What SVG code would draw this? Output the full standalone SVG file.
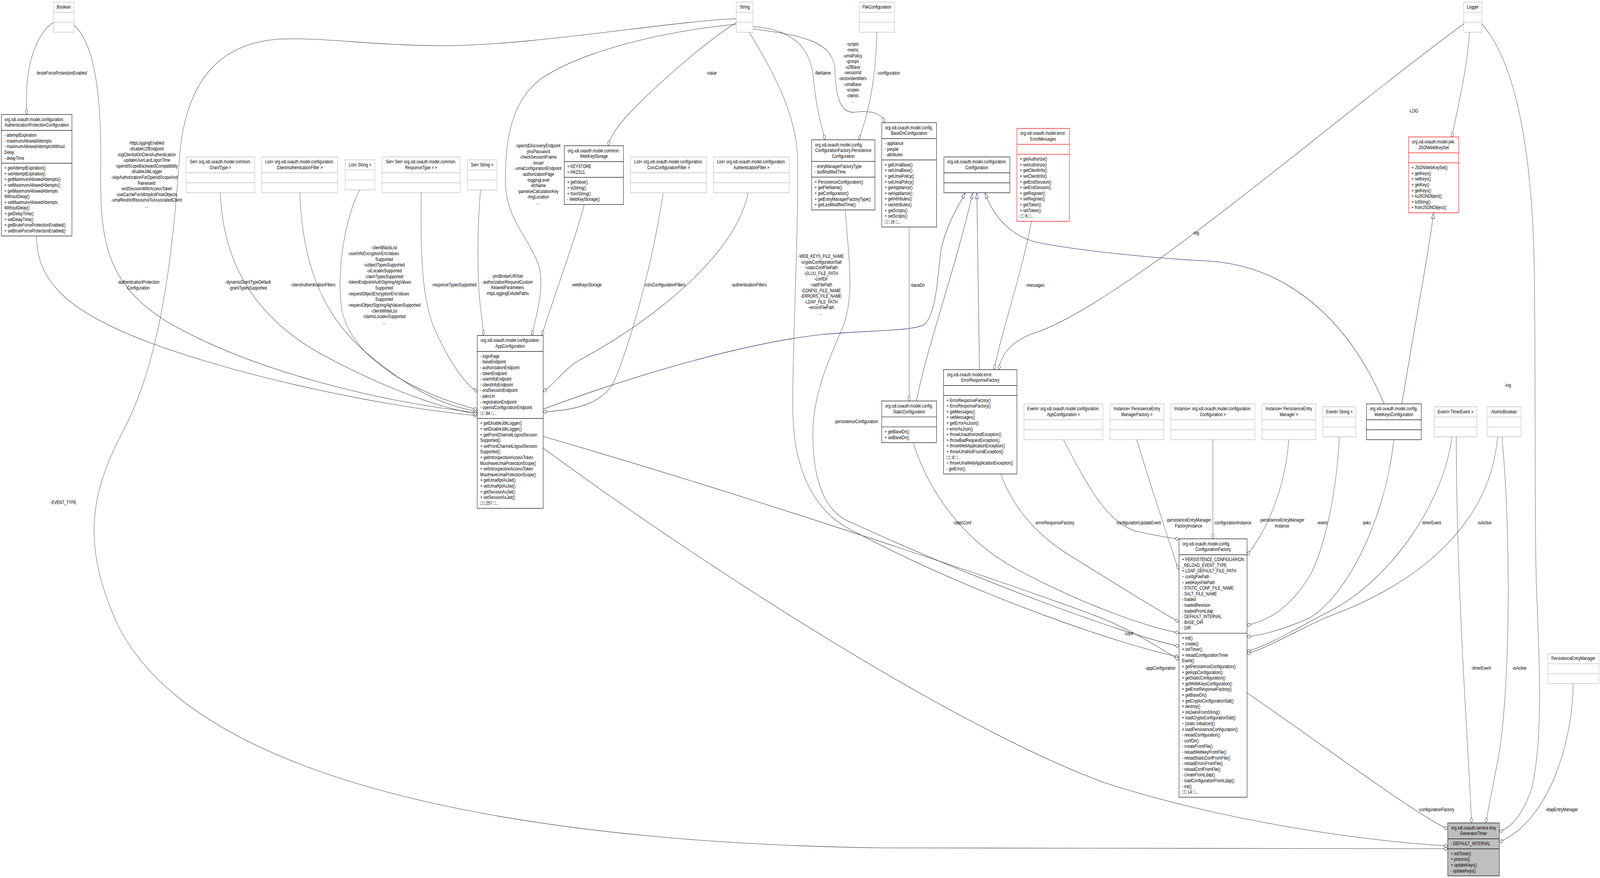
<svg xmlns="http://www.w3.org/2000/svg" width="5433" height="2247" viewBox="0 0 5433 2247" preserveAspectRatio="none">
<defs>
<style>
:root{width:100vw;height:100vh}
text{font-family:"Liberation Sans",Arial,Helvetica,sans-serif;font-size:13px;fill:#000}
.m{text-anchor:middle}
.n{text-anchor:end}
.b{fill:#fff;stroke:#000;stroke-width:1.2}
.g{fill:#fff;stroke:#bfbfbf;stroke-width:1.4}
.r{fill:#fff;stroke:#f00;stroke-width:1.3}
.k{fill:#bfbfbf;stroke:#000;stroke-width:1.2}
.bl{fill:none;stroke:#000;stroke-width:1.2}
.gl{fill:none;stroke:#bfbfbf;stroke-width:1.4}
.rl{fill:none;stroke:#f00;stroke-width:1.3}
.e{fill:none;stroke:#404040;stroke-width:1.1;marker-end:url(#dia)}
.i{fill:none;stroke:#191970;stroke-width:1.1;marker-end:url(#tri)}
</style>
<marker id="dia" viewBox="0 0 16 12" refX="15" refY="6" markerWidth="16" markerHeight="12" markerUnits="userSpaceOnUse" orient="auto"><path d="M1,6 L8,1.5 L15,6 L8,10.5 Z" fill="#fff" stroke="#404040" stroke-width="1.1"/></marker>
<marker id="tri" viewBox="0 0 16 12" refX="15" refY="6" markerWidth="16" markerHeight="12" markerUnits="userSpaceOnUse" orient="auto"><path d="M1,1 L15,6 L1,11 Z" fill="#fff" stroke="#191970" stroke-width="1.1"/></marker>
</defs>
<rect width="5433" height="2247" fill="#fff"/>

<g id="nodes">
<g id="n-boolean"><rect class="g" x="182" y="5.5" width="69" height="77.1"/><path class="gl" d="M182,31.6H251M182,57.1H251"/><text class="m" x="216.5" y="22.3">Boolean</text></g>
<g id="n-string"><rect class="g" x="2500" y="5.5" width="57" height="77.1"/><path class="gl" d="M2500,31.6H2557M2500,57.1H2557"/><text class="m" x="2528.5" y="22.3">String</text></g>
<g id="n-fileconfiguration"><rect class="g" x="2918" y="5.5" width="119" height="77.1"/><path class="gl" d="M2918,31.6H3037M2918,57.1H3037"/><text class="m" x="2977.5" y="22.3">FileConfiguration</text></g>
<g id="n-logger"><rect class="g" x="4970" y="5.5" width="62" height="77.1"/><path class="gl" d="M4970,31.6H5032M4970,57.1H5032"/><text class="m" x="5001" y="22.3">Logger</text></g>

<g id="n-authprot"><rect class="b" x="4.7" y="293" width="239.5" height="310.9"/><path class="bl" d="M4.7,333.7H244.2M4.7,417.7H244.2"/>
<text x="15.7" y="309.75">org.xdi.oxauth.model.configuration.</text>
<text class="m" x="124.45" y="324.35">AuthenticationProtectionConfiguration</text>
<text x="14.7" y="350.2"><tspan x="14.7">- attemptExpiration</tspan><tspan x="14.7" dy="14.6">- maximumAllowedAttempts</tspan><tspan x="14.7" dy="14.6">- maximumAllowedAttemptsWithout</tspan><tspan x="14.7" dy="14.6">Delay</tspan><tspan x="14.7" dy="14.6">- delayTime</tspan></text>
<text x="14.7" y="434.2"><tspan x="14.7">+ getAttemptExpiration()</tspan><tspan x="14.7" dy="14.6">+ setAttemptExpiration()</tspan><tspan x="14.7" dy="14.6">+ getMaximumAllowedAttempts()</tspan><tspan x="14.7" dy="14.6">+ setMaximumAllowedAttempts()</tspan><tspan x="14.7" dy="14.6">+ getMaximumAllowedAttempts</tspan><tspan x="14.7" dy="14.6">WithoutDelay()</tspan><tspan x="14.7" dy="14.6">+ setMaximumAllowedAttempts</tspan><tspan x="14.7" dy="14.6">WithoutDelay()</tspan><tspan x="14.7" dy="14.6">+ getDelayTime()</tspan><tspan x="14.7" dy="14.6">+ setDelayTime()</tspan><tspan x="14.7" dy="14.6">+ getBruteForceProtectionEnabled()</tspan><tspan x="14.7" dy="14.6">+ setBruteForceProtectionEnabled()</tspan></text></g>

<g id="n-setgranttype"><rect class="g" x="631.6" y="401.6" width="233.5" height="91.7"/><path class="gl" d="M631.6,442.3H865.1M631.6,467.8H865.1"/><text class="m" x="748.35" y="418.35">Set&lt; org.xdi.oxauth.model.common.</text><text class="m" x="748.35" y="432.95">GrantType &gt;</text></g>
<g id="n-listclientauthfilter"><rect class="g" x="889" y="401.6" width="257.5" height="91.7"/><path class="gl" d="M889,442.3H1146.5M889,467.8H1146.5"/><text class="m" x="1017.75" y="418.35">List&lt; org.xdi.oxauth.model.configuration.</text><text class="m" x="1017.75" y="432.95">ClientAuthenticationFilter &gt;</text></g>
<g id="n-liststring"><rect class="g" x="1172" y="409" width="101" height="77.1"/><path class="gl" d="M1172,435.1H1273M1172,460.6H1273"/><text class="m" x="1222.5" y="425.75">List&lt; String &gt;</text></g>
<g id="n-setsetresponsetype"><rect class="g" x="1297" y="401.6" width="265.5" height="91.7"/><path class="gl" d="M1297,442.3H1562.5M1297,467.8H1562.5"/><text class="m" x="1429.75" y="418.35">Set&lt; Set&lt; org.xdi.oxauth.model.common.</text><text class="m" x="1429.75" y="432.95">ResponseType &gt; &gt;</text></g>
<g id="n-setstring"><rect class="g" x="1587" y="409" width="100" height="77.1"/><path class="gl" d="M1587,435.1H1687M1587,460.6H1687"/><text class="m" x="1637" y="425.75">Set&lt; String &gt;</text></g>

<g id="n-webkeystorage"><rect class="b" x="1916" y="373" width="201" height="150.3"/><path class="bl" d="M1916,413.7H2117M1916,453.9H2117"/>
<text x="1927.5" y="389.75">org.xdi.oxauth.model.common.</text><text class="m" x="2016.5" y="404.35">WebKeyStorage</text>
<text x="1926" y="430.2"><tspan x="1926">+ KEYSTORE</tspan><tspan x="1926" dy="14.6">+ PKCS11</tspan></text>
<text x="1926" y="470.4"><tspan x="1926">+ getValue()</tspan><tspan x="1926" dy="14.6">+ toString()</tspan><tspan x="1926" dy="14.6">+ fromString()</tspan><tspan x="1926" dy="14.6">- WebKeyStorage()</tspan></text></g>

<g id="n-listcors"><rect class="g" x="2141.5" y="401.6" width="257.5" height="91.7"/><path class="gl" d="M2141.5,442.3H2399M2141.5,467.8H2399"/><text class="m" x="2270.25" y="418.35">List&lt; org.xdi.oxauth.model.configuration.</text><text class="m" x="2270.25" y="432.95">CorsConfigurationFilter &gt;</text></g>
<g id="n-listauthfilter"><rect class="g" x="2423" y="401.6" width="257" height="91.7"/><path class="gl" d="M2423,442.3H2680M2423,467.8H2680"/><text class="m" x="2551.5" y="418.35">List&lt; org.xdi.oxauth.model.configuration.</text><text class="m" x="2551.5" y="432.95">AuthenticationFilter &gt;</text></g>

<g id="n-persistenceconfiguration"><rect class="b" x="2756" y="357.8" width="215" height="179.5"/><path class="bl" d="M2756,413.1H2971M2756,453.3H2971"/>
<text x="2767.5" y="374.55">org.xdi.oxauth.model.config.</text><text class="m" x="2863.5" y="389.15">ConfigurationFactory.Persistence</text><text class="m" x="2863.5" y="403.75">Configuration</text>
<text x="2766" y="429.6"><tspan x="2766">- entryManagerFactoryType</tspan><tspan x="2766" dy="14.6">- lastModifiedTime</tspan></text>
<text x="2766" y="469.8"><tspan x="2766">+ PersistenceConfiguration()</tspan><tspan x="2766" dy="14.6">+ getFileName()</tspan><tspan x="2766" dy="14.6">+ getConfiguration()</tspan><tspan x="2766" dy="14.6">+ getEntryManagerFactoryType()</tspan><tspan x="2766" dy="14.6">+ getLastModifiedTime()</tspan></text></g>

<g id="n-basedn"><rect class="b" x="2994" y="313.9" width="186" height="267.1"/><path class="bl" d="M2994,354.6H3180M2994,409.4H3180"/>
<text x="3005.5" y="330.65">org.xdi.oxauth.model.config.</text><text class="m" x="3087" y="345.25">BaseDnConfiguration</text>
<text x="3004" y="371.1"><tspan x="3004">- appliance</tspan><tspan x="3004" dy="14.6">- people</tspan><tspan x="3004" dy="14.6">- attributes</tspan></text>
<text x="3004" y="425.9"><tspan x="3004">+ getUmaBase()</tspan><tspan x="3004" dy="14.6">+ setUmaBase()</tspan><tspan x="3004" dy="14.6">+ getUmaPolicy()</tspan><tspan x="3004" dy="14.6">+ setUmaPolicy()</tspan><tspan x="3004" dy="14.6">+ getAppliance()</tspan><tspan x="3004" dy="14.6">+ setAppliance()</tspan><tspan x="3004" dy="14.6">+ getAttributes()</tspan><tspan x="3004" dy="14.6">+ setAttributes()</tspan><tspan x="3004" dy="14.6">+ getScripts()</tspan><tspan x="3004" dy="14.6">+ setScripts()</tspan><tspan x="3004" dy="14.6">□□ 16 □...</tspan></text></g>

<g id="n-configuration"><rect class="b" x="3205" y="401.6" width="224" height="91.7"/><path class="bl" d="M3205,442.3H3429M3205,467.8H3429"/><text x="3216.5" y="418.35">org.xdi.oxauth.model.configuration.</text><text class="m" x="3317" y="432.95">Configuration</text></g>

<g id="n-errormessages"><rect class="r" x="3453" y="328.6" width="178" height="237.8"/><path class="rl" d="M3453,369.3H3631M3453,394.8H3631"/>
<text x="3464.5" y="345.35">org.xdi.oxauth.model.error.</text><text class="m" x="3542" y="359.95">ErrorMessages</text>
<text x="3463" y="411.3"><tspan x="3463">+ getAuthorize()</tspan><tspan x="3463" dy="14.6">+ setAuthorize()</tspan><tspan x="3463" dy="14.6">+ getClientInfo()</tspan><tspan x="3463" dy="14.6">+ setClientInfo()</tspan><tspan x="3463" dy="14.6">+ getEndSession()</tspan><tspan x="3463" dy="14.6">+ setEndSession()</tspan><tspan x="3463" dy="14.6">+ getRegister()</tspan><tspan x="3463" dy="14.6">+ setRegister()</tspan><tspan x="3463" dy="14.6">+ getToken()</tspan><tspan x="3463" dy="14.6">+ setToken()</tspan><tspan x="3463" dy="14.6">□□ 6 □...</tspan></text></g>

<g id="n-jsonwebkeyset"><rect class="r" x="4783" y="350.5" width="170" height="194"/><path class="rl" d="M4783,391.2H4953M4783,416.7H4953"/>
<text x="4794.5" y="367.25">org.xdi.oxauth.model.jwk.</text><text class="m" x="4868" y="381.85">JSONWebKeySet</text>
<text x="4793" y="433.2"><tspan x="4793">+ JSONWebKeySet()</tspan><tspan x="4793" dy="14.6">+ getKeys()</tspan><tspan x="4793" dy="14.6">+ setKeys()</tspan><tspan x="4793" dy="14.6">+ getKey()</tspan><tspan x="4793" dy="14.6">+ getKeys()</tspan><tspan x="4793" dy="14.6">+ toJSONObject()</tspan><tspan x="4793" dy="14.6">+ toString()</tspan><tspan x="4793" dy="14.6">+ fromJSONObject()</tspan></text></g>

<g id="n-appconfiguration"><rect class="b" x="1620.5" y="858.6" width="224" height="442.3"/><path class="bl" d="M1620.5,899.3H1844.5M1620.5,1070.9H1844.5"/>
<text x="1632" y="875.35">org.xdi.oxauth.model.configuration.</text><text class="m" x="1732.5" y="889.95">AppConfiguration</text>
<text x="1630.5" y="915.8"><tspan x="1630.5">- loginPage</tspan><tspan x="1630.5" dy="14.6">- baseEndpoint</tspan><tspan x="1630.5" dy="14.6">- authorizationEndpoint</tspan><tspan x="1630.5" dy="14.6">- tokenEndpoint</tspan><tspan x="1630.5" dy="14.6">- userInfoEndpoint</tspan><tspan x="1630.5" dy="14.6">- clientInfoEndpoint</tspan><tspan x="1630.5" dy="14.6">- endSessionEndpoint</tspan><tspan x="1630.5" dy="14.6">- jwksUri</tspan><tspan x="1630.5" dy="14.6">- registrationEndpoint</tspan><tspan x="1630.5" dy="14.6">- openIdConfigurationEndpoint</tspan><tspan x="1630.5" dy="14.6">□□ 84 □...</tspan></text>
<text x="1630.5" y="1087.4"><tspan x="1630.5">+ getDisableJdkLogger()</tspan><tspan x="1630.5" dy="14.6">+ setDisableJdkLogger()</tspan><tspan x="1630.5" dy="14.6">+ getFrontChannelLogoutSession</tspan><tspan x="1630.5" dy="14.6">Supported()</tspan><tspan x="1630.5" dy="14.6">+ setFrontChannelLogoutSession</tspan><tspan x="1630.5" dy="14.6">Supported()</tspan><tspan x="1630.5" dy="14.6">+ getIntrospectionAccessToken</tspan><tspan x="1630.5" dy="14.6">MustHaveUmaProtectionScope()</tspan><tspan x="1630.5" dy="14.6">+ setIntrospectionAccessToken</tspan><tspan x="1630.5" dy="14.6">MustHaveUmaProtectionScope()</tspan><tspan x="1630.5" dy="14.6">+ getUmaRptAsJwt()</tspan><tspan x="1630.5" dy="14.6">+ setUmaRptAsJwt()</tspan><tspan x="1630.5" dy="14.6">+ getSessionAsJwt()</tspan><tspan x="1630.5" dy="14.6">+ setSessionAsJwt()</tspan><tspan x="1630.5" dy="14.6">□□ 257 □...</tspan></text></g>

<g id="n-staticconfiguration"><rect class="b" x="2994" y="1026.3" width="186" height="106.4"/><path class="bl" d="M2994,1067H3180M2994,1092.5H3180"/>
<text x="3005.5" y="1043.05">org.xdi.oxauth.model.config.</text><text class="m" x="3087" y="1057.65">StaticConfiguration</text>
<text x="3004" y="1109"><tspan x="3004">+ getBaseDn()</tspan><tspan x="3004" dy="14.6">+ setBaseDn()</tspan></text></g>

<g id="n-errorresponsefactory"><rect class="b" x="3204" y="946" width="249" height="267"/><path class="bl" d="M3204,986.7H3453M3204,1012.2H3453"/>
<text x="3215.5" y="962.75">org.xdi.oxauth.model.error.</text><text class="m" x="3328.5" y="977.35">ErrorResponseFactory</text>
<text x="3214" y="1028.7"><tspan x="3214">+ ErrorResponseFactory()</tspan><tspan x="3214" dy="14.6">+ ErrorResponseFactory()</tspan><tspan x="3214" dy="14.6">+ getMessages()</tspan><tspan x="3214" dy="14.6">+ setMessages()</tspan><tspan x="3214" dy="14.6">+ getErrorAsJson()</tspan><tspan x="3214" dy="14.6">+ errorAsJson()</tspan><tspan x="3214" dy="14.6">+ throwUnauthorizedException()</tspan><tspan x="3214" dy="14.6">+ throwBadRequestException()</tspan><tspan x="3214" dy="14.6">+ throwWebApplicationException()</tspan><tspan x="3214" dy="14.6">+ throwUmaNotFoundException()</tspan><tspan x="3214" dy="14.6">□□ 8 □...</tspan><tspan x="3214" dy="14.6">~ throwUmaWebApplicationException()</tspan><tspan x="3214" dy="14.6">- getError()</tspan></text></g>

<g id="n-eventappconfiguration"><rect class="g" x="3477" y="1033.6" width="268" height="91.7"/><path class="gl" d="M3477,1074.3H3745M3477,1099.8H3745"/><text class="m" x="3611" y="1050.35">Event&lt; org.xdi.oxauth.model.configuration.</text><text class="m" x="3611" y="1064.95">AppConfiguration &gt;</text></g>
<g id="n-instancepemf"><rect class="g" x="3769" y="1033.6" width="183" height="91.7"/><path class="gl" d="M3769,1074.3H3952M3769,1099.8H3952"/><text class="m" x="3860.5" y="1050.35">Instance&lt; PersistenceEntry</text><text class="m" x="3860.5" y="1064.95">ManagerFactory &gt;</text></g>
<g id="n-instanceconfiguration"><rect class="g" x="3976" y="1033.6" width="285" height="91.7"/><path class="gl" d="M3976,1074.3H4261M3976,1099.8H4261"/><text class="m" x="4118.5" y="1050.35">Instance&lt; org.xdi.oxauth.model.configuration.</text><text class="m" x="4118.5" y="1064.95">Configuration &gt;</text></g>
<g id="n-instancepem"><rect class="g" x="4285" y="1033.6" width="183" height="91.7"/><path class="gl" d="M4285,1074.3H4468M4285,1099.8H4468"/><text class="m" x="4376.5" y="1050.35">Instance&lt; PersistenceEntry</text><text class="m" x="4376.5" y="1064.95">Manager &gt;</text></g>
<g id="n-eventstring"><rect class="g" x="4492" y="1041" width="112" height="77.1"/><path class="gl" d="M4492,1067.1H4604M4492,1092.6H4604"/><text class="m" x="4548" y="1057.75">Event&lt; String &gt;</text></g>
<g id="n-webkeysconfiguration"><rect class="b" x="4640" y="1033.6" width="186" height="91.7"/><path class="bl" d="M4640,1074.3H4826M4640,1099.8H4826"/><text x="4651.5" y="1050.35">org.xdi.oxauth.model.config.</text><text class="m" x="4733" y="1064.95">WebKeysConfiguration</text></g>
<g id="n-eventtimerevent"><rect class="g" x="4870" y="1041" width="145" height="77.1"/><path class="gl" d="M4870,1067.1H5015M4870,1092.6H5015"/><text class="m" x="4942.5" y="1057.75">Event&lt; TimerEvent &gt;</text></g>
<g id="n-atomicboolean"><rect class="g" x="5050" y="1041" width="115" height="77.1"/><path class="gl" d="M5050,1067.1H5165M5050,1092.6H5165"/><text class="m" x="5107.5" y="1057.75">AtomicBoolean</text></g>

<g id="n-configurationfactory"><rect class="b" x="4003.5" y="1379" width="231" height="661.3"/><path class="bl" d="M4003.5,1419.7H4234.5M4003.5,1620.5H4234.5"/>
<text x="4015" y="1395.75">org.xdi.oxauth.model.config.</text><text class="m" x="4119" y="1410.35">ConfigurationFactory</text>
<text x="4013.5" y="1436.2"><tspan x="4013.5">+ PERSISTENCE_CONFIGUARION</tspan><tspan x="4013.5" dy="14.6">_RELOAD_EVENT_TYPE</tspan><tspan x="4013.5" dy="14.6">+ LDAP_DEFAULT_FILE_PATH</tspan><tspan x="4013.5" dy="14.6">~ configFilePath</tspan><tspan x="4013.5" dy="14.6">~ webKeysFilePath</tspan><tspan x="4013.5" dy="14.6">- STATIC_CONF_FILE_NAME</tspan><tspan x="4013.5" dy="14.6">- SALT_FILE_NAME</tspan><tspan x="4013.5" dy="14.6">- loaded</tspan><tspan x="4013.5" dy="14.6">- loadedRevision</tspan><tspan x="4013.5" dy="14.6">- loadedFromLdap</tspan><tspan x="4013.5" dy="14.6">- DEFAULT_INTERVAL</tspan><tspan x="4013.5" dy="14.6">- BASE_DIR</tspan><tspan x="4013.5" dy="14.6">- DIR</tspan></text>
<text x="4013.5" y="1637"><tspan x="4013.5">+ init()</tspan><tspan x="4013.5" dy="14.6">+ create()</tspan><tspan x="4013.5" dy="14.6">+ initTimer()</tspan><tspan x="4013.5" dy="14.6">+ reloadConfigurationTimer</tspan><tspan x="4013.5" dy="14.6">Event()</tspan><tspan x="4013.5" dy="14.6">+ getPersistenceConfiguration()</tspan><tspan x="4013.5" dy="14.6">+ getAppConfiguration()</tspan><tspan x="4013.5" dy="14.6">+ getStaticConfiguration()</tspan><tspan x="4013.5" dy="14.6">+ getWebKeysConfiguration()</tspan><tspan x="4013.5" dy="14.6">+ getErrorResponseFactory()</tspan><tspan x="4013.5" dy="14.6">+ getBaseDn()</tspan><tspan x="4013.5" dy="14.6">+ getCryptoConfigurationSalt()</tspan><tspan x="4013.5" dy="14.6">+ destroy()</tspan><tspan x="4013.5" dy="14.6">+ initJwksFromString()</tspan><tspan x="4013.5" dy="14.6">+ loadCryptoConfigurationSalt()</tspan><tspan x="4013.5" dy="14.6">~ [static initializer]()</tspan><tspan x="4013.5" dy="14.6"># loadPersistenceConfiguration()</tspan><tspan x="4013.5" dy="14.6">- reloadConfiguration()</tspan><tspan x="4013.5" dy="14.6">- confDir()</tspan><tspan x="4013.5" dy="14.6">- createFromFile()</tspan><tspan x="4013.5" dy="14.6">- reloadWebkeyFromFile()</tspan><tspan x="4013.5" dy="14.6">- reloadStaticConfFromFile()</tspan><tspan x="4013.5" dy="14.6">- reloadErrorsFromFile()</tspan><tspan x="4013.5" dy="14.6">- reloadConfFromFile()</tspan><tspan x="4013.5" dy="14.6">- createFromLdap()</tspan><tspan x="4013.5" dy="14.6">- loadConfigurationFromLdap()</tspan><tspan x="4013.5" dy="14.6">- init()</tspan><tspan x="4013.5" dy="14.6">□□ 14 □...</tspan></text></g>

<g id="n-persistenceentrymanager"><rect class="g" x="5256" y="1672.5" width="173" height="77.1"/><path class="gl" d="M5256,1698.6H5429M5256,1724.1H5429"/><text class="m" x="5342.5" y="1689.25">PersistenceEntryManager</text></g>

<g id="n-keygeneratortimer"><rect class="k" x="4916" y="2106" width="175" height="135.7"/><path class="bl" d="M4916,2146.7H5091M4916,2172.3H5091"/>
<text x="4927.5" y="2122.75">org.xdi.oxauth.service.Key</text><text class="m" x="5003.5" y="2137.35">GeneratorTimer</text>
<text x="4926" y="2163.2">- DEFAULT_INTERVAL</text>
<text x="4926" y="2188.8"><tspan x="4926">+ initTimer()</tspan><tspan x="4926" dy="14.6">+ process()</tspan><tspan x="4926" dy="14.6">+ updateKeys()</tspan><tspan x="4926" dy="14.6">- updateKeys()</tspan></text></g>
</g>

<g id="edges">
<path class="e" d="M182,57 C125,85 90,160 90,250 C90,270 90,285 90,293"/>
<path class="e" d="M251,64 C320,110 345,240 342,420 C339,600 350,720 560,820 C850,950 1300,1030 1621,1056"/>
<path class="e" d="M124,604 C124,720 230,800 520,880 C850,970 1300,1040 1621,1064"/>
<path class="e" d="M748,493 C755,640 830,800 1100,910 C1300,990 1470,1040 1621,1060"/>
<path class="e" d="M1018,493 C1025,640 1070,790 1240,900 C1380,990 1500,1040 1621,1052"/>
<path class="e" d="M1222,486 C1180,540 1140,680 1160,790 C1190,920 1420,1010 1621,1048"/>
<path class="e" d="M1430,493 C1430,620 1425,760 1480,850 C1530,930 1580,985 1621,1002"/>
<path class="e" d="M1632,486 C1620,580 1620,720 1632,790 C1638,825 1641,845 1641,858"/>
<path class="e" d="M2500,62 C2250,80 1980,130 1840,200 C1740,255 1716,350 1716,460 C1716,560 1790,600 1830,680 C1850,740 1820,810 1806,858"/>
<path class="e" d="M1984,523 C1950,620 1880,760 1840,858"/>
<path class="e" d="M2252,494 C2210,700 2130,900 2083,980 C2040,1035 1950,1050 1845,1054"/>
<path class="e" d="M2540,494 C2500,650 2220,820 1960,925 C1910,950 1880,985 1845,1002"/>
<path class="e" d="M2500,58 C2400,105 2240,210 2150,280 C2100,318 2072,350 2065,373"/>
<path class="e" d="M2557,68 C2690,75 2752,120 2762,200 C2770,270 2790,325 2802,358"/>
<path class="e" d="M2557,74 C2720,90 2832,105 2835,180 C2838,250 2855,292 2905,287 C2960,282 2995,290 3004,314"/>
<path class="e" d="M2977,83 C2975,180 2958,275 2915,358"/>
<path class="e" d="M4990,83 C4980,190 4945,290 4930,351"/>
<path class="e" d="M4972,60 C4650,240 4350,430 4100,571 C3860,710 3640,820 3520,850 C3440,870 3398,905 3392,946"/>
<path class="e" d="M3087,581 L3087,1026"/>
<path class="e" d="M3502,567 C3470,700 3400,850 3376,946"/>
<path class="e" d="M2545,83 C2620,180 2700,280 2708,400 C2712,600 2690,900 2692,1050 C2695,1200 2760,1310 2900,1360 C3300,1520 3800,1650 4003,1681"/>
<path class="e" d="M2870,538 C2880,650 2905,760 2860,840 C2815,920 2760,1010 2760,1110 C2760,1230 2800,1300 2870,1330 C3300,1480 3800,1620 4003,1654"/>
<path class="e" d="M3101,1133 C3150,1250 3260,1380 3460,1460 C3700,1555 3900,1605 4003,1620"/>
<path class="e" d="M3398,1213 C3440,1300 3520,1370 3640,1425 C3800,1500 3950,1570 4003,1591"/>
<path class="e" d="M3611,1125 C3690,1240 3760,1340 3860,1360 C3930,1372 3975,1376 4003,1380"/>
<path class="e" d="M3860,1125 C3905,1240 3955,1350 3985,1420 C3993,1440 3998,1450 4003,1457"/>
<path class="e" d="M4118.5,1125 L4118.5,1379"/>
<path class="e" d="M4376,1125 C4365,1250 4300,1360 4234,1421"/>
<path class="e" d="M4548,1118 C4540,1250 4500,1400 4450,1470 C4380,1560 4300,1590 4234,1600"/>
<path class="e" d="M4733,1125 C4700,1350 4560,1530 4450,1580 C4350,1615 4280,1625 4234,1630"/>
<path class="e" d="M4930,1118 C4900,1300 4700,1500 4500,1570 C4400,1610 4300,1655 4234,1667"/>
<path class="e" d="M5085,1118 C5060,1350 4800,1500 4500,1581 C4400,1615 4300,1660 4234,1673"/>
<path class="e" d="M1845,1117 C2500,1260 3300,1460 3700,1570 C3850,1612 3950,1665 4003,1688"/>
<path class="e" d="M1845,1147 C2300,1400 3200,1850 3750,2003 C4150,2100 4600,2150 4916,2165"/>
<path class="e" d="M2500,48 C2300,52 1800,118 1500,117 C1250,116 1100,95 950,100 C750,110 640,200 612,380 C590,600 560,900 420,1100 C300,1270 280,1400 400,1600 C700,2050 2000,2160 3000,2170 C4000,2175 4600,2172 4916,2172"/>
<path class="e" d="M4234,1773 C4500,1911 4800,2080 4916,2122"/>
<path class="e" d="M4945,1118 C4945,1500 4985,1900 4997,2106"/>
<path class="e" d="M5100,1118 C5135,1400 5125,1800 5085,1950 C5065,2030 5050,2080 5046,2106"/>
<path class="e" d="M5032,62 C5150,160 5205,400 5210,700 C5215,1000 5210,1300 5217,1500 C5228,1700 5240,1900 5200,2020 C5165,2095 5125,2120 5091,2128"/>
<path class="e" d="M5342,1750 C5340,1900 5260,2100 5091,2155"/>
<path class="i" d="M1845,1047 C2100,975 2500,880 2792,856 C2950,845 3100,848 3140,830 C3180,800 3185,700 3195,640 C3215,570 3260,520 3277,494"/>
<path class="i" d="M3112,1026 C3150,880 3240,700 3303,494"/>
<path class="i" d="M3326,946 L3317,494"/>
<path class="i" d="M4700,1034 C4600,850 4400,680 4100,668 C3900,660 3650,640 3520,620 C3440,605 3375,560 3345,494"/>
<path class="i" d="M4760,1034 C4800,850 4850,650 4868,545"/>

<g id="labels">
<text class="m" x="208.5" y="191">-bruteForceProtectionEnabled</text>
<text class="m" x="2416" y="191">-value</text>
<text class="m" x="2793" y="191">-fileName</text>
<text class="m" x="3017" y="191">-configuration</text>
<text class="m" x="4800" y="288">-LOG</text>
<text class="m" x="2895" y="117.5"><tspan x="2895">-scripts</tspan><tspan x="2895" dy="14.6">-metric</tspan><tspan x="2895" dy="14.6">-umaPolicy</tspan><tspan x="2895" dy="14.6">-groups</tspan><tspan x="2895" dy="14.6">-u2fBase</tspan><tspan x="2895" dy="14.6">-sessionId</tspan><tspan x="2895" dy="14.6">-sectorIdentifiers</tspan><tspan x="2895" dy="14.6">-umaBase</tspan><tspan x="2895" dy="14.6">-scopes</tspan><tspan x="2895" dy="14.6">-clients</tspan><tspan x="2895" dy="14.6">...</tspan></text>
<text class="m" x="497.5" y="370.5"><tspan x="497.5" y="370.5">-httpLoggingEnabled</tspan><tspan x="497.5" y="385.1">-disableU2fEndpoint</tspan><tspan x="497.5" y="399.7">-logClientIdOnClientAuthentication</tspan><tspan x="497.5" y="414.3">-updateUserLastLogonTime</tspan><tspan x="497.5" y="428.9">-openidScopeBackwardCompatibility</tspan><tspan x="497.5" y="443.5">-disableJdkLogger</tspan><tspan x="497.5" y="472.7">PairwiseId</tspan><tspan x="497.5" y="487.3">-endSessionWithAccessToken</tspan><tspan x="497.5" y="501.9">-useCacheForAllImplicitFlowObjects</tspan><tspan x="497.5" y="516.5">-umaRestrictResourceToAssociatedClient</tspan><tspan x="497.5" y="531.1">...</tspan></text>
<text x="377.5" y="458.1">-skipAuthorizationForOpenIdScopeAnd</text>
<text class="m" x="1827" y="377"><tspan x="1827">-openIdDiscoveryEndpoint</tspan><tspan x="1827" dy="14.6">-jmsPassword</tspan><tspan x="1827" dy="14.6">-checkSessionIFrame</tspan><tspan x="1827" dy="14.6">-issuer</tspan><tspan x="1827" dy="14.6">-umaConfigurationEndpoint</tspan><tspan x="1827" dy="14.6">-authorizationPage</tspan><tspan x="1827" dy="14.6">-loggingLevel</tspan><tspan x="1827" dy="14.6">-dnName</tspan><tspan x="1827" dy="14.6">-pairwiseCalculationKey</tspan><tspan x="1827" dy="14.6">-imgLocation</tspan><tspan x="1827" dy="14.6">...</tspan></text>
<text class="m" x="4061" y="600">-log</text>
<text class="m" x="470" y="726"><tspan x="470">-authenticationProtection</tspan><tspan x="470" dy="14.6">Configuration</tspan></text>
<text class="m" x="842" y="726"><tspan x="842">-dynamicGrantTypeDefault</tspan><tspan x="842" dy="14.6">-grantTypesSupported</tspan></text>
<text class="m" x="1063" y="733">-clientAuthenticationFilters</text>
<text class="m" x="1304.5" y="638.5"><tspan x="1304.5" y="638.5">-clientBlackList</tspan><tspan x="1304.5" y="667.8">Supported</tspan><tspan x="1304.5" y="682.45">-subjectTypesSupported</tspan><tspan x="1304.5" y="697.1">-uiLocalesSupported</tspan><tspan x="1304.5" y="711.75">-claimTypesSupported</tspan><tspan x="1304.5" y="741.05">Supported</tspan><tspan x="1304.5" y="770.35">Supported</tspan><tspan x="1304.5" y="785">-requestObjectSigningAlgValuesSupported</tspan><tspan x="1304.5" y="799.65">-clientWhiteList</tspan><tspan x="1304.5" y="814.3">-claimsLocalesSupported</tspan><tspan x="1304.5" y="828.95">...</tspan></text>
<text x="1181.7" y="653.15">-userInfoEncryptionEncValues</text>
<text x="1181.7" y="726.4">-tokenEndpointAuthSigningAlgValues</text>
<text x="1181.7" y="755.7">-requestObjectEncryptionEncValues</text>
<text class="m" x="1542" y="733">-responseTypesSupported</text>
<text class="m" x="1723" y="711"><tspan x="1723">-jmsBrokerURISet</tspan><tspan x="1723" dy="14.6">-authorizationRequestCustom</tspan><tspan x="1723" dy="14.6">AllowedParameters</tspan><tspan x="1723" dy="14.6">-httpLoggingExludePaths</tspan></text>
<text class="m" x="1991.5" y="733">-webKeysStorage</text>
<text class="m" x="2257" y="733">-corsConfigurationFilters</text>
<text class="m" x="2543" y="733">-authenticationFilters</text>
<text class="m" x="2788" y="660"><tspan x="2788">-WEB_KEYS_FILE_NAME</tspan><tspan x="2788" dy="14.6">-cryptoConfigurationSalt</tspan><tspan x="2788" dy="14.6">~staticConfFilePath</tspan><tspan x="2788" dy="14.6">-GLUU_FILE_PATH</tspan><tspan x="2788" dy="14.6">-confDir</tspan><tspan x="2788" dy="14.6">~saltFilePath</tspan><tspan x="2788" dy="14.6">-CONFIG_FILE_NAME</tspan><tspan x="2788" dy="14.6">-ERRORS_FILE_NAME</tspan><tspan x="2788" dy="14.6">-LDAP_FILE_PATH</tspan><tspan x="2788" dy="14.6">~errorsFilePath</tspan><tspan x="2788" dy="14.6">...</tspan></text>
<text x="3091" y="734">-baseDn</text>
<text x="3483" y="734">-messages</text>
<text class="n" x="2981" y="1083">-persistenceConfiguration</text>
<text class="m" x="5120" y="990">-log</text>
<text class="m" x="215" y="1290">-EVENT_TYPE</text>
<text x="3236" y="1342">-staticConf</text>
<text x="3514" y="1342">-errorResponseFactory</text>
<text class="m" x="3865" y="1342">-configurationUpdateEvent</text>
<text class="m" x="4036" y="1335.5"><tspan x="4036">-persistenceEntryManager</tspan><tspan x="4036" dy="14.6">FactoryInstance</tspan></text>
<text class="m" x="4185" y="1342">-configurationInstance</text>
<text class="m" x="4353" y="1335.5"><tspan x="4353">-persistenceEntryManager</tspan><tspan x="4353" dy="14.6">Instance</tspan></text>
<text x="4471" y="1342">-event</text>
<text class="m" x="4640" y="1342">-jwks</text>
<text class="m" x="4860" y="1342">-timerEvent</text>
<text class="m" x="5040" y="1342">-isActive</text>
<text class="m" x="3832" y="1626">-conf</text>
<text class="m" x="3940" y="1714">-appConfiguration</text>
<text class="m" x="5029" y="1714">-timerEvent</text>
<text class="m" x="5159" y="1714">-isActive</text>
<text class="m" x="4877" y="2076">-configurationFactory</text>
<text class="m" x="5303" y="2076">-ldapEntryManager</text>
</g>
</g>
</svg>
